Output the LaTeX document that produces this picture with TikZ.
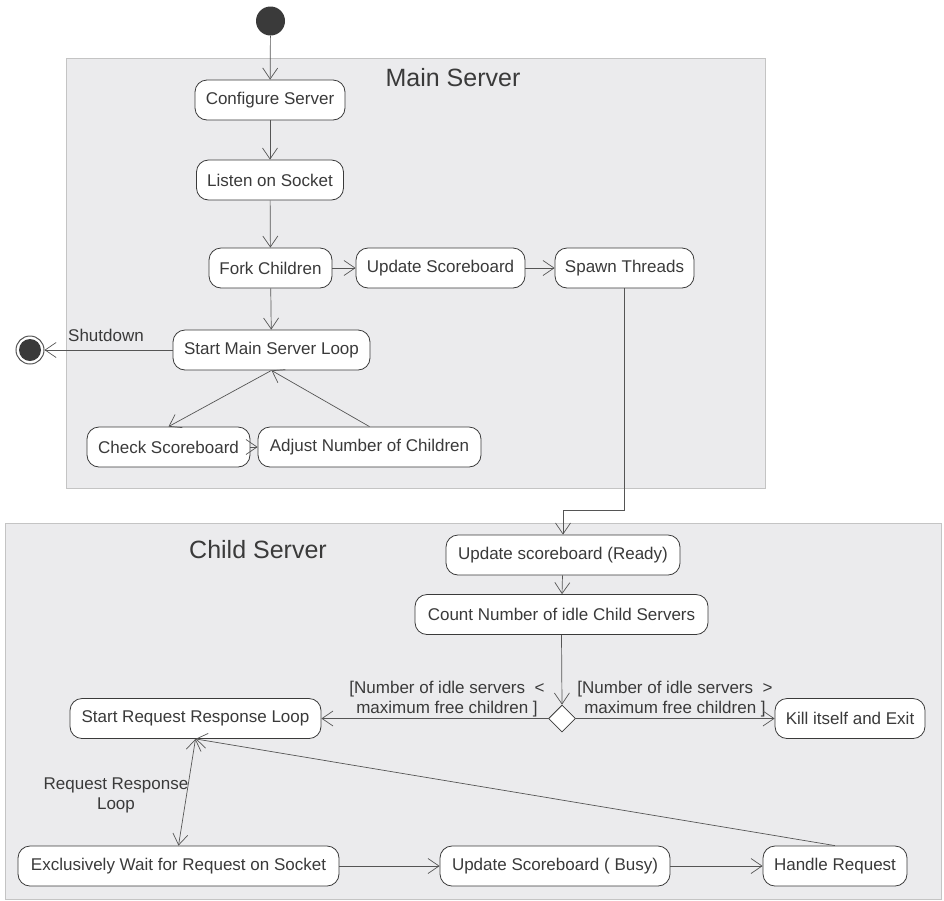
\documentclass[tikz,border=0pt]{standalone}
\usepackage{fontspec}
\setmainfont{Liberation Sans}
\usetikzlibrary{arrows.meta,shapes.geometric}
\definecolor{framefill}{HTML}{EBEBED}
\definecolor{frameline}{HTML}{C4C4C4}
\definecolor{ink}{HTML}{3A3A3A}
\definecolor{lineink}{HTML}{555555}
\begin{document}
\begin{tikzpicture}[x=1pt,y=-1pt,
 act/.style={draw=ink, fill=white, rounded corners=12pt, minimum height=40pt, inner sep=2pt, line width=0.8pt, text=ink, font=\fontsize{17}{20}\selectfont},
 flow/.style={draw=lineink, line width=0.7pt, -{Straight Barb[length=11pt,width=15pt]}},
 lbl/.style={text=ink, font=\fontsize{17}{20}\selectfont, align=center, inner sep=0pt},
 ttl/.style={text=ink, font=\fontsize{25}{30}\selectfont},
 frm/.style={fill=framefill, draw=frameline, line width=1pt}]
\useasboundingbox (0,0) rectangle (944,900);
\draw[frm] (66,58) rectangle (765,488);
\draw[frm] (5,523) rectangle (941,899);
\node[ttl] (mtitle) at (453,78) {Main Server};
\node[ttl] (ctitle) at (258,550) {Child Server};
% initial and final
\node[circle, fill=ink, minimum size=29pt, inner sep=0pt] (start) at (270.5,21) {};
\node[circle, draw=lineink, line width=1pt, fill=white, minimum size=28pt, inner sep=0pt] (endn) at (30,350) {};
\node[circle, fill=ink, minimum size=22pt, inner sep=0pt] (endin) at (30,350) {};
% main server
\node[act, minimum width=150pt] (conf) at (270,100) {Configure Server};
\node[act, minimum width=147pt] (listen) at (270,180) {Listen on Socket};
\node[act, minimum width=123pt] (fork) at (270.5,268) {Fork Children};
\node[act, minimum width=169pt] (upd) at (440.5,268) {Update Scoreboard};
\node[act, minimum width=139pt] (spawn) at (624.5,268) {Spawn Threads};
\node[act, minimum width=197pt] (mainloop) at (271.5,350) {Start Main Server Loop};
\node[act, minimum width=163pt] (check) at (168.5,447) {Check Scoreboard};
\node[act, minimum width=223pt] (adjust) at (369.5,447) {Adjust Number of Children};
\node[lbl] (shut) at (106,335) {Shutdown};
% child server
\node[act, minimum width=234pt] (ready) at (563,555) {Update scoreboard (Ready)};
\node[act, minimum width=293pt] (count) at (561.5,614.5) {Count Number of idle Child Servers};
\node[diamond, draw=ink, fill=white, line width=0.8pt, minimum size=27pt, inner sep=0pt] (dec) at (562,718.5) {};
\node[act, minimum width=251pt] (startreq) at (195.5,718.5) {Start Request Response Loop};
\node[act, minimum width=150pt] (kill) at (850,718.5) {Kill itself and Exit};
\node[act, minimum width=321pt] (excl) at (178.5,866) {Exclusively Wait for Request on Socket};
\node[act, minimum width=230pt] (busy) at (555,866) {Update Scoreboard ( Busy)};
\node[act, minimum width=144pt] (handle) at (835,866) {Handle Request};
\node[lbl] (lblless) at (447,699) {[Number of idle servers\ \ <\\maximum free children ]};
\node[lbl] (lblmore) at (675,699) {[Number of idle servers\ \ >\\maximum free children ]};
\node[lbl] (lblloop) at (116,795) {Request Response\\Loop};
% connectors
\draw[flow] (start) -- (conf);
\draw[flow] (conf) -- (listen);
\draw[flow] (listen) -- (fork);
\draw[flow] (fork) -- (upd);
\draw[flow] (upd) -- (spawn);
\draw[flow] (fork) -- (mainloop);
\draw[flow] (mainloop) -- (endn);
\draw[flow] (mainloop.south) -- (check.north);
\draw[flow] (check) -- (adjust);
\draw[flow] (adjust.north) -- (mainloop.south);
\draw[flow] (spawn.south) -- ++(0,222) -| (ready.north);
\draw[flow] (ready) -- (count);
\draw[flow] (count.south) -- (dec.north);
\draw[flow] (dec) -- (startreq);
\draw[flow] (dec) -- (kill);
\draw[flow, {Straight Barb[length=11pt,width=15pt]}-{Straight Barb[length=11pt,width=15pt]}] (startreq.south) -- (excl.north);
\draw[flow] (handle.north) -- (startreq.south);
\draw[flow] (excl) -- (busy);
\draw[flow] (busy) -- (handle);
\end{tikzpicture}
\end{document}
